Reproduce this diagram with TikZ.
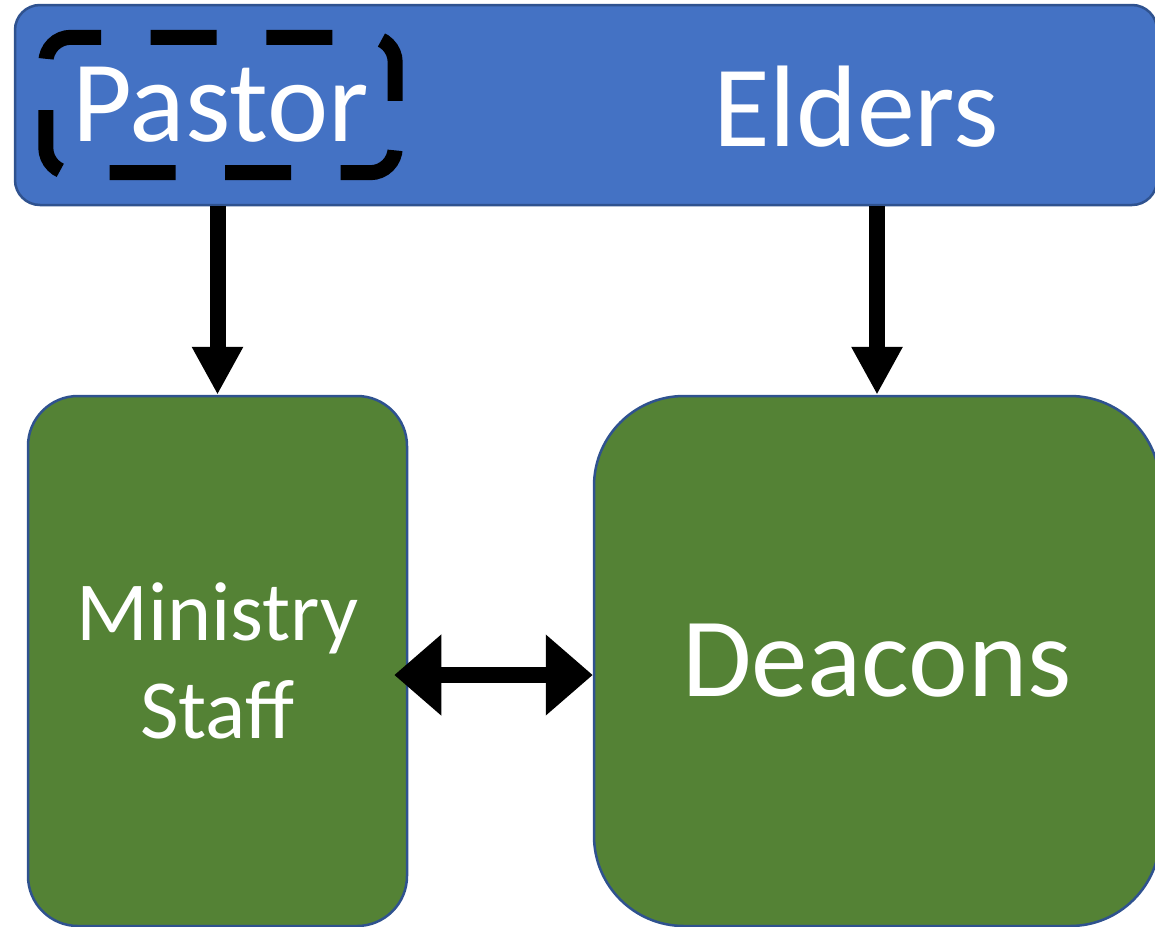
\documentclass[tikz,border=0pt]{standalone}
\usepackage{fontspec}
\setmainfont{Carlito}
\usetikzlibrary{arrows.meta, positioning, calc}

\definecolor{barblue}{HTML}{4472C4}
\definecolor{boxgreen}{HTML}{548235}
\definecolor{edgeblue}{HTML}{2F528F}

\tikzset{
    panel/.style={draw=edgeblue, line width=2.5pt, text=white, inner sep=0pt},
    dashbox/.style={draw=black, line width=15pt, rounded corners=25pt, dash pattern=on 66pt off 49.6pt, dash phase=94.4pt},
    bigarrow/.style={line width=16pt, -{Triangle[width=48pt, length=48pt]}},
    bothways/.style={line width=16pt, {Triangle[width=78pt, length=47pt]}-{Triangle[width=78pt, length=47pt]}}
}

\begin{document}
\begin{tikzpicture}[x=1pt, y=-1pt]
\useasboundingbox (0,0) rectangle (1155,926);

% Leadership bar
\node[panel, fill=barblue, rounded corners=25pt, minimum width=1142pt, minimum height=200pt] (bar) at (586,105) {};
\node[minimum width=349pt, minimum height=135pt, text=white, inner sep=0pt,
      font=\fontsize{116}{139}\selectfont] (pastor) at (220.5,105) {Pastor};
\draw[dashbox] (pastor.west) -- (pastor.north west) -- (pastor.north east)
    -- (pastor.south east) -- (pastor.south west) -- cycle;
\node[text=white, font=\fontsize{116}{139}\selectfont] (elders) at (856,107) {Elders};

% Lower boxes
\node[panel, fill=boxgreen, rounded corners=50pt, minimum width=379pt, minimum height=530pt,
      align=center, font=\fontsize{84}{98}\selectfont] (staff) at (217.5,661) {Ministry\\Staff};
\node[panel, fill=boxgreen, rounded corners=90pt, minimum width=566pt, minimum height=530pt,
      font=\fontsize{113}{135}\selectfont] (deacons) at (877,661) {Deacons};

% Connectors
\coordinate (link) at (500,675);
\draw[bigarrow] (staff.north |- bar.south) -- (staff.north);
\draw[bigarrow] (deacons.north |- bar.south) -- (deacons.north);
\draw[bothways] ([xshift=-14pt]staff.east |- link) -- (deacons.west |- link);
\end{tikzpicture}
\end{document}
